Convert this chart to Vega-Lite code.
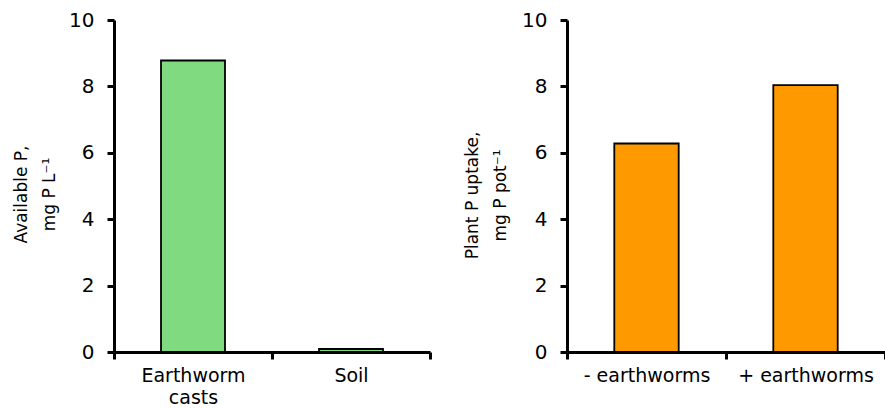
{
  "$schema": "https://vega.github.io/schema/vega-lite/v6.json",
  "autosize": {"type": "pad"},
  "padding": {"left": 12, "top": 10, "right": 0, "bottom": 0},
  "background": "white",
  "bounds": "flush",
  "spacing": 137,
  "config": {
    "view": {"stroke": null},
    "font": "DejaVu Sans",
    "axis": {
      "domainColor": "black",
      "domainWidth": 3,
      "tickColor": "black",
      "tickWidth": 3,
      "tickSize": 7,
      "labelFont": "DejaVu Sans",
      "labelColor": "black",
      "titleFont": "DejaVu Sans",
      "titleFontSize": 17,
      "titleFontWeight": "normal",
      "titleColor": "black",
      "grid": false
    }
  },
  "datasets": {
    "avail": [
      {"group": "Earthworm casts", "value": 8.78},
      {"group": "Soil", "value": 0.09}
    ],
    "uptake": [
      {"group": "- earthworms", "value": 6.28},
      {"group": "+ earthworms", "value": 8.04}
    ]
  },
  "hconcat": [
    {
      "width": 316,
      "height": 332,
      "data": {"name": "avail"},
      "mark": {"type": "bar", "fill": "#80DB80", "stroke": "black", "strokeWidth": 1.8, "width": {"band": 0.405}},
      "encoding": {
        "x": {
          "field": "group",
          "type": "nominal",
          "sort": null,
          "scale": {"paddingInner": 0, "paddingOuter": 0},
          "axis": {
            "title": null,
            "labelAngle": 0,
            "labelFontSize": 19,
            "tickBand": "extent",
            "labelPadding": 7,
            "labelLineHeight": 22,
            "labelBaseline": "top",
            "labelExpr": "datum.label == 'Earthworm casts' ? ['Earthworm', 'casts'] : datum.label"
          }
        },
        "y": {
          "field": "value",
          "type": "quantitative",
          "scale": {"domain": [0, 10], "nice": false},
          "axis": {
            "values": [0, 2, 4, 6, 8, 10],
            "labelFontSize": 20,
            "labelPadding": 13,
            "title": ["Available P,", "mg P L⁻¹"],
            "titleLineHeight": 28,
            "titlePadding": 10,
            "titleY": 174
          }
        }
      }
    },
    {
      "width": 318,
      "height": 332,
      "data": {"name": "uptake"},
      "mark": {"type": "bar", "fill": "#FF9900", "stroke": "black", "strokeWidth": 1.8, "width": {"band": 0.405}},
      "encoding": {
        "x": {
          "field": "group",
          "type": "nominal",
          "sort": null,
          "scale": {"paddingInner": 0, "paddingOuter": 0},
          "axis": {
            "title": null,
            "labelAngle": 0,
            "labelFontSize": 19,
            "tickBand": "extent",
            "labelPadding": 7,
            "labelBaseline": "top"
          }
        },
        "y": {
          "field": "value",
          "type": "quantitative",
          "scale": {"domain": [0, 10], "nice": false},
          "axis": {
            "values": [0, 2, 4, 6, 8, 10],
            "labelFontSize": 20,
            "labelPadding": 13,
            "title": ["Plant P uptake,", "mg P pot⁻¹"],
            "titleLineHeight": 28,
            "titlePadding": 12,
            "titleY": 175
          }
        }
      }
    }
  ]
}
